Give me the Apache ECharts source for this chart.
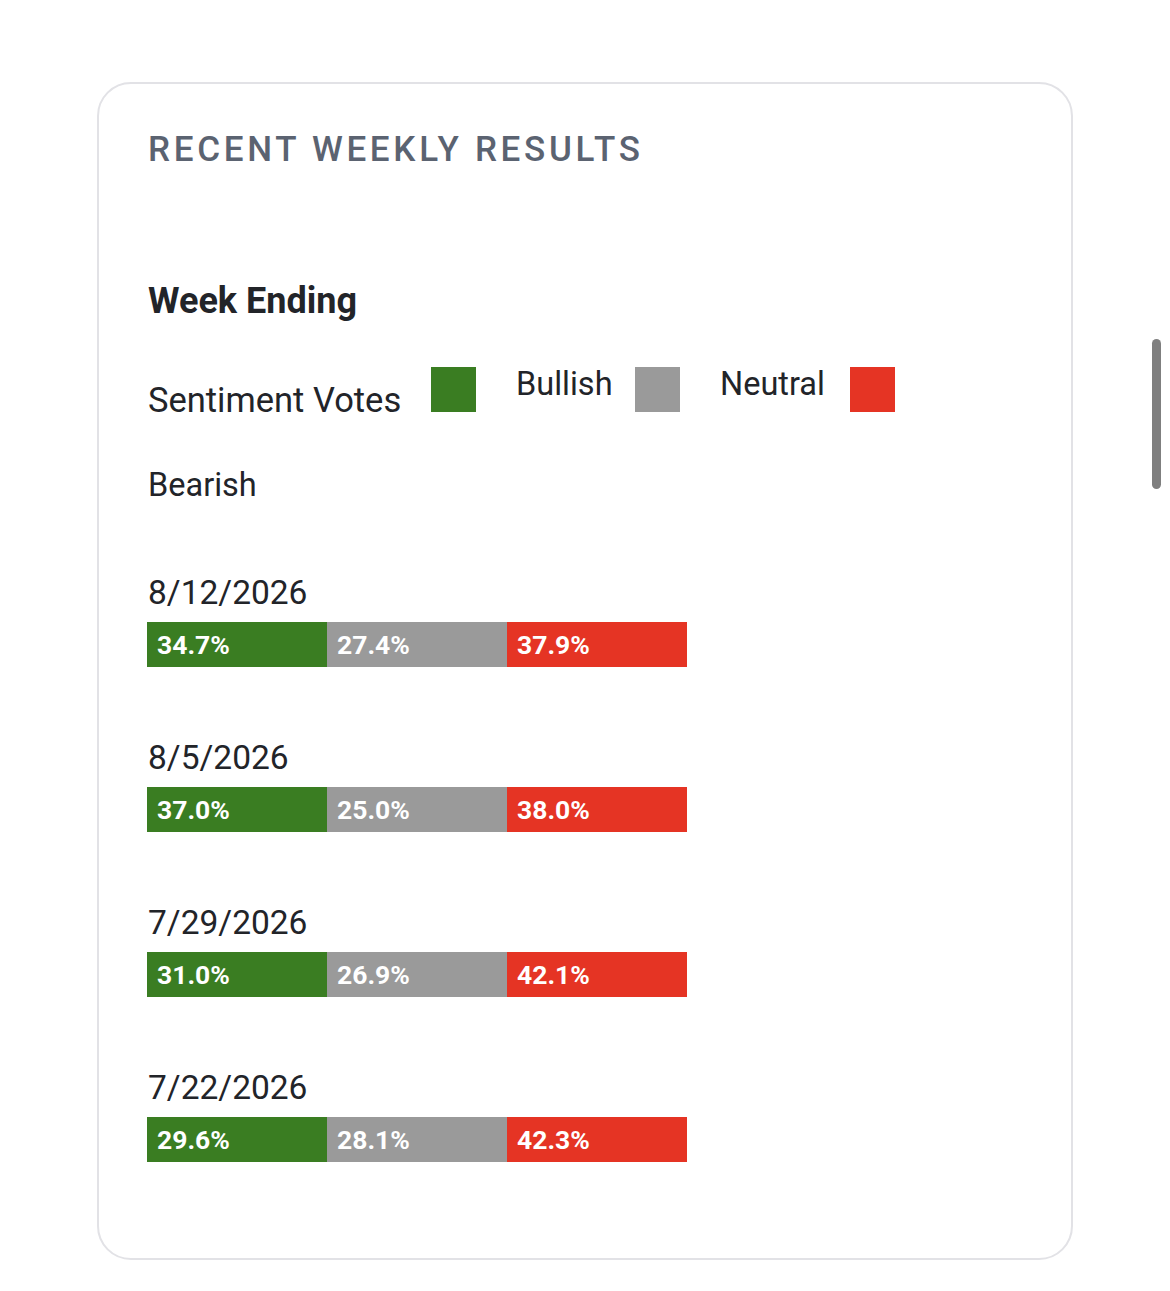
<!DOCTYPE html>
<html>
<head>
<meta charset="utf-8">
<script src="https://cdn.jsdelivr.net/npm/echarts@6/dist/echarts.min.js"></script>
<style>
  html, body { margin:0; padding:0; background:#ffffff; width:1170px; height:1291px; overflow:hidden; font-family: Roboto, sans-serif; }
  #card { position:absolute; left:97px; top:82px; width:976px; height:1178px; box-sizing:border-box; border:2px solid #e2e2e6; border-radius:34px; background:#fff; }
  #title { position:absolute; left:148px; top:130px; font: 500 35px Roboto, sans-serif; line-height:40px; letter-spacing:3.7px; color:#5b6371; white-space:nowrap; }
  #scroll { position:absolute; left:1152px; top:339px; width:9px; height:150px; background:#7f7f7f; border-radius:5px; }
  #chart { position:absolute; left:0; top:0; width:1170px; height:1291px; }
</style>
</head>
<body>
<div id="card"></div>
<div id="title">RECENT WEEKLY RESULTS</div>
<div id="scroll"></div>
<div id="chart"></div>
<script>
// ---- data ----
const sentiments = ['Bullish', 'Neutral', 'Bearish'];
const sentimentColors = ['#3a7d22', '#9a9a9a', '#e53424'];
const weekEnding = ['8/12/2026', '8/5/2026', '7/29/2026', '7/22/2026'];
const bullish = [34.7, 37.0, 31.0, 29.6];
const neutral = [27.4, 25.0, 26.9, 28.1];
const bearish = [37.9, 38.0, 42.1, 42.3];

const headerText = 'Week Ending';
const legendTitle = 'Sentiment Votes';

// ---- build ----
const seriesValues = [bullish, neutral, bearish];
const cellData = [];
weekEnding.forEach(function (d, i) {
  seriesValues.forEach(function (arr, j) {
    cellData.push([j, i, arr[i]]);
  });
});
const dateData = weekEnding.map(function (d, i) { return [0, i]; });

const TEXT = '#222429';
const FONT = 'Roboto, sans-serif';
const BAR_H = 45;

const chart = echarts.init(document.getElementById('chart'), null, { renderer: 'svg' });

// legend layout: "Sentiment Votes" [sq] Bullish [sq] Neutral [sq] / Bearish (wrapped)
const legendSquares = [431, 635, 850];
const legendLabels = [[516, 384], [720, 384], [148, 485]];
const graphics = [
  { type: 'text', x: 148, y: 301, style: { text: headerText, font: '700 36px ' + FONT, fill: TEXT, verticalAlign: 'middle' } },
  { type: 'text', x: 148, y: 400, style: { text: legendTitle, font: '400 34.5px ' + FONT, fill: TEXT, verticalAlign: 'middle' } }
];
sentiments.forEach(function (name, k) {
  graphics.push({ type: 'rect', shape: { x: legendSquares[k], y: 367, width: 45, height: 45 }, style: { fill: sentimentColors[k] } });
  graphics.push({ type: 'text', x: legendLabels[k][0], y: legendLabels[k][1], style: { text: name, font: '400 32.5px ' + FONT, fill: TEXT, verticalAlign: 'middle' } });
});

chart.setOption({
  animation: false,
  graphic: graphics,
  grid: { left: 147, width: 540, top: 562, height: 660 },
  xAxis: { type: 'category', data: sentiments, show: false, boundaryGap: true },
  yAxis: { type: 'category', data: weekEnding, show: false, inverse: true },
  series: [
    {
      name: 'Sentiment Votes',
      type: 'custom',
      data: cellData,
      encode: { x: 0, y: 1 },
      renderItem: function (params, api) {
        const j = api.value(0);
        const c = api.coord([j, api.value(1)]);
        const s = api.size([1, 1]);
        return {
          type: 'rect',
          shape: { x: c[0] - s[0] / 2, y: c[1] - BAR_H / 2, width: s[0], height: BAR_H },
          style: { fill: sentimentColors[j] },
          textContent: {
            style: { text: api.value(2).toFixed(1) + '%', fill: '#ffffff', font: '700 26.5px ' + FONT }
          },
          textConfig: { position: 'insideLeft', distance: 10 }
        };
      }
    },
    {
      name: 'Week Ending',
      type: 'custom',
      data: dateData,
      encode: { x: 0, y: 1 },
      renderItem: function (params, api) {
        const c = api.coord([0, api.value(1)]);
        const s = api.size([1, 1]);
        return {
          type: 'text',
          x: c[0] - s[0] / 2 + 1,
          y: c[1] - 52,
          style: { text: weekEnding[api.value(1)], font: '400 33.5px ' + FONT, fill: TEXT, verticalAlign: 'middle' }
        };
      }
    }
  ]
});
</script>
</body>
</html>
